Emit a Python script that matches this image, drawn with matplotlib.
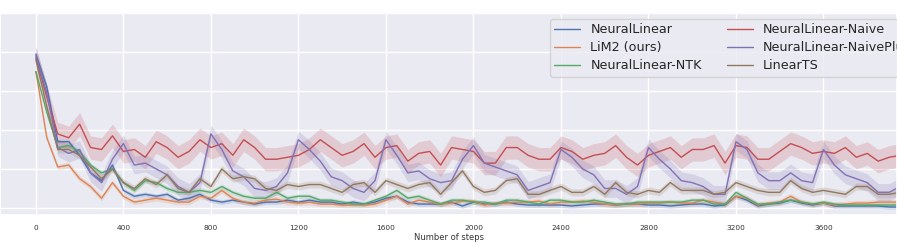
import matplotlib

matplotlib.use("Agg")
import matplotlib.pyplot as plt
import numpy as np
import seaborn as sns

steps = np.arange(0, 4000, 50)

neural_linear = [
    0.79, 0.62, 0.34, 0.34, 0.27, 0.18, 0.14, 0.22, 0.09, 0.06, 0.07, 0.06,
    0.07, 0.04, 0.05, 0.07, 0.04, 0.03, 0.04, 0.03, 0.02, 0.03, 0.03, 0.04,
    0.03, 0.04, 0.03, 0.03, 0.02, 0.03, 0.02, 0.03, 0.05, 0.06, 0.03, 0.02,
    0.02, 0.02, 0.03, 0.01, 0.03, 0.02, 0.02, 0.03, 0.02, 0.015, 0.015, 0.015,
    0.015, 0.01, 0.015, 0.02, 0.02, 0.015, 0.02, 0.02, 0.015, 0.015, 0.01, 0.015,
    0.02, 0.02, 0.01, 0.015, 0.06, 0.04, 0.01, 0.02, 0.025, 0.04, 0.025, 0.015,
    0.025, 0.01, 0.01, 0.01, 0.01, 0.01, 0.005, 0.005,
]
lim2 = [
    0.70, 0.36, 0.21, 0.22, 0.15, 0.11, 0.05, 0.13, 0.06, 0.03, 0.04, 0.05,
    0.04, 0.03, 0.03, 0.06, 0.05, 0.09, 0.05, 0.03, 0.025, 0.04, 0.045, 0.03,
    0.025, 0.03, 0.02, 0.02, 0.015, 0.015, 0.015, 0.02, 0.04, 0.06, 0.02, 0.04,
    0.03, 0.02, 0.025, 0.035, 0.035, 0.015, 0.025, 0.025, 0.03, 0.03, 0.035, 0.02,
    0.03, 0.03, 0.035, 0.03, 0.02, 0.015, 0.02, 0.02, 0.025, 0.025, 0.03, 0.025,
    0.025, 0.04, 0.03, 0.02, 0.06, 0.05, 0.015, 0.025, 0.03, 0.06, 0.03, 0.02,
    0.025, 0.015, 0.02, 0.025, 0.025, 0.03, 0.03, 0.03,
]
neural_linear_ntk = [
    0.70, 0.49, 0.31, 0.32, 0.29, 0.22, 0.18, 0.20, 0.13, 0.09, 0.14, 0.13,
    0.10, 0.08, 0.08, 0.09, 0.08, 0.11, 0.08, 0.06, 0.05, 0.05, 0.08, 0.05,
    0.06, 0.06, 0.04, 0.04, 0.03, 0.02, 0.02, 0.04, 0.06, 0.09, 0.05, 0.06,
    0.04, 0.02, 0.04, 0.04, 0.03, 0.03, 0.02, 0.04, 0.04, 0.03, 0.02, 0.04,
    0.04, 0.03, 0.03, 0.04, 0.03, 0.02, 0.02, 0.03, 0.03, 0.03, 0.03, 0.03,
    0.04, 0.04, 0.02, 0.02, 0.08, 0.05, 0.02, 0.02, 0.03, 0.04, 0.03, 0.02,
    0.03, 0.02, 0.015, 0.015, 0.015, 0.015, 0.015, 0.015,
]
neural_linear_naive = [
    0.77, 0.57, 0.38, 0.36, 0.43, 0.31, 0.30, 0.37, 0.29, 0.30, 0.26, 0.34,
    0.31, 0.26, 0.29, 0.35, 0.31, 0.33, 0.27, 0.35, 0.31, 0.25, 0.25, 0.26,
    0.27, 0.30, 0.35, 0.31, 0.27, 0.29, 0.33, 0.26, 0.31, 0.32, 0.24, 0.28,
    0.29, 0.22, 0.31, 0.30, 0.29, 0.23, 0.23, 0.31, 0.31, 0.27, 0.25, 0.25,
    0.31, 0.29, 0.25, 0.27, 0.28, 0.32, 0.26, 0.22, 0.27, 0.29, 0.31, 0.26,
    0.30, 0.30, 0.32, 0.23, 0.32, 0.31, 0.25, 0.25, 0.29, 0.33, 0.31, 0.28,
    0.29, 0.28, 0.31, 0.26, 0.28, 0.24, 0.26, 0.27,
]
neural_linear_naive_plus = [
    0.78, 0.59, 0.31, 0.28, 0.30, 0.18, 0.13, 0.25, 0.33, 0.22, 0.23, 0.20,
    0.17, 0.11, 0.08, 0.13, 0.38, 0.30, 0.19, 0.16, 0.10, 0.09, 0.11, 0.18,
    0.35, 0.30, 0.24, 0.16, 0.14, 0.10, 0.08, 0.14, 0.35, 0.27, 0.18, 0.19,
    0.15, 0.13, 0.14, 0.25, 0.32, 0.23, 0.21, 0.19, 0.17, 0.09, 0.11, 0.13,
    0.30, 0.26, 0.20, 0.17, 0.10, 0.10, 0.07, 0.11, 0.31, 0.25, 0.20, 0.14,
    0.13, 0.11, 0.07, 0.07, 0.34, 0.30, 0.18, 0.14, 0.14, 0.18, 0.14, 0.13,
    0.30, 0.22, 0.17, 0.15, 0.13, 0.08, 0.08, 0.11,
]
linear_ts = [
    0.76, 0.52, 0.30, 0.30, 0.27, 0.21, 0.15, 0.20, 0.13, 0.10, 0.15, 0.12,
    0.17, 0.10, 0.08, 0.15, 0.11, 0.20, 0.15, 0.16, 0.15, 0.10, 0.09, 0.12,
    0.11, 0.12, 0.12, 0.10, 0.08, 0.12, 0.13, 0.08, 0.14, 0.12, 0.10, 0.12,
    0.13, 0.07, 0.13, 0.19, 0.11, 0.08, 0.09, 0.14, 0.15, 0.07, 0.07, 0.09,
    0.11, 0.08, 0.08, 0.11, 0.07, 0.13, 0.08, 0.07, 0.09, 0.08, 0.13, 0.09,
    0.09, 0.09, 0.07, 0.08, 0.13, 0.11, 0.09, 0.08, 0.08, 0.14, 0.10, 0.08,
    0.09, 0.08, 0.07, 0.11, 0.11, 0.07, 0.07, 0.08,
]

labels = ["NeuralLinear", "LiM2 (ours)", "NeuralLinear-NTK",
          "NeuralLinear-Naive", "NeuralLinear-NaivePlus", "LinearTS"]
series = [neural_linear, lim2, neural_linear_ntk,
          neural_linear_naive, neural_linear_naive_plus, linear_ts]
# half-width of the shaded band around each mean curve
band = [0.012, 0.014, 0.012, 0.06, 0.045, 0.018]

sns.set_theme(style="darkgrid")
plt.rcParams["font.family"] = ["DejaVu Sans"]
colors = list(sns.color_palette("deep"))[:6]

fig = plt.figure(figsize=(8.97, 2.52), dpi=100)
ax = fig.add_axes([0.0, 0.147, 1.0, 0.801])

for vals, lab, col, w in zip(series, labels, colors, band):
    y = np.array(vals)
    ax.fill_between(steps, y - w, y + w, color=col, alpha=0.2, lw=0)
    ax.plot(steps, y, color=col, lw=1.0, label=lab)

ax.set_xlim(-164, 3936)
ax.set_ylim(-0.036, 1.0)
ax.set_xticks(np.arange(0, 3601, 400))
ax.set_yticks(np.arange(0, 1.01, 0.2))
ax.tick_params(axis="x", labelsize=5.3, pad=1.5, colors="#333333")
ax.tick_params(axis="y", labelleft=False)
ax.set_xlabel("Number of steps", fontsize=6, labelpad=1, color="#333333")

# the original legend runs past the right edge of the picture
ax.legend(loc="upper left", bbox_to_anchor=(550 / 897, 1 - 19 / 252),
          bbox_transform=fig.transFigure, borderaxespad=0, ncol=2,
          fontsize=9.2, labelspacing=0.38, borderpad=0.35, frameon=True)

fig.savefig("out.png", dpi=100)
